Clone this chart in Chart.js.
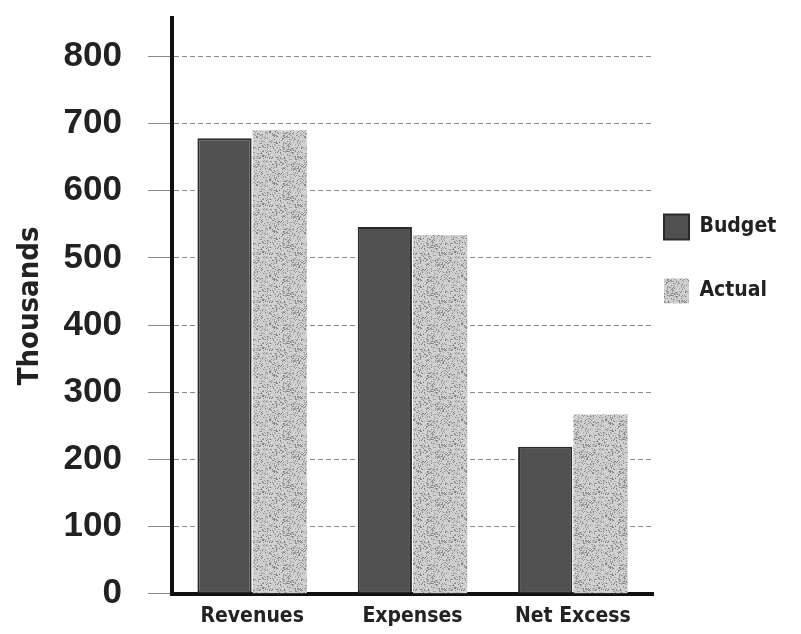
<!DOCTYPE html>
<html>
<head>
<meta charset="utf-8">
<script src="https://cdn.jsdelivr.net/npm/chart.js@4"></script>
<style>
  html, body { margin: 0; padding: 0; background: #ffffff; }
  #wrap { width: 801px; height: 634px; position: relative; }
</style>
</head>
<body>
<div id="wrap"><canvas id="c" width="801" height="634"></canvas></div>
<script>
const categories = ['Revenues', 'Expenses', 'Net Excess'];
const budget = [678, 546, 219];
const actual = [690, 534, 267];
const yTicks = [0, 100, 200, 300, 400, 500, 600, 700, 800];
const yTitle = 'Thousands';

function makeSpeckle() {
  const c = document.createElement('canvas');
  c.width = 48; c.height = 48;
  const g = c.getContext('2d');
  g.fillStyle = '#d2d2d2';
  g.fillRect(0, 0, 48, 48);
  for (let y = 0; y < 48; y++) {
    for (let x = 0; x < 48; x++) {
      const h = Math.sin(x * 12.9898 + y * 78.233) * 43758.5453;
      const f = h - Math.floor(h);
      if (f < 0.4) {
        const v = Math.floor(120 + f * 230);
        g.fillStyle = 'rgb(' + v + ',' + v + ',' + v + ')';
        g.fillRect(x, y, 1, 1);
      }
    }
  }
  return g.createPattern(c, 'repeat');
}
const speckle = makeSpeckle();

const narrow = '"DejaVu Sans Condensed", "Liberation Sans", sans-serif';

// Widen the legend's drawing region after layout so it can sit close to the plot
const legendShift = {
  id: 'legendShift',
  afterLayout(chart) {
    const lg = chart.legend;
    if (!lg) return;
    lg.left = chart.chartArea.right - 28;
    lg.right = chart.width;
    lg.width = lg.right - lg.left;
  }
};

new Chart(document.getElementById('c'), {
  type: 'bar',
  data: {
    labels: categories,
    datasets: [
      { label: 'Budget', data: budget, backgroundColor: '#505050', borderColor: '#2a2a2a', borderWidth: 2, borderSkipped: false },
      { label: 'Actual', data: actual, backgroundColor: speckle, borderColor: '#bdbdbd', borderWidth: 0 }
    ]
  },
  plugins: [legendShift],
  options: {
    responsive: false,
    animation: false,
    devicePixelRatio: 1,
    categoryPercentage: 0.69,
    barPercentage: 0.98,
    layout: { padding: { top: 18, right: 0, bottom: -5, left: 0 } },
    plugins: {
      tooltip: { enabled: false },
      legend: {
        position: 'right',
        align: 'start',
        maxWidth: 148,
        title: { display: true, text: '', padding: { top: 143, bottom: 0 } },
        labels: {
          boxWidth: 25,
          boxHeight: 25,
          padding: 39,
          color: '#222',
          font: { family: narrow, size: 21, weight: 'bold' }
        }
      }
    },
    scales: {
      x: {
        grid: { display: false, drawTicks: false },
        border: { display: true, color: '#111', width: 4 },
        ticks: { color: '#222', padding: 10, maxRotation: 0, minRotation: 0, autoSkip: false, font: { family: narrow, size: 21, weight: 'bold' } }
      },
      y: {
        min: 0,
        max: 857,
        afterBuildTicks: (axis) => { axis.ticks = yTicks.map(v => ({ value: v })); },
        afterFit: (scale) => { scale.paddingTop = 0; scale.paddingBottom = 0; scale.width = 172; },
        grid: { color: '#8a8a8a', lineWidth: 1, tickLength: 24, drawTicks: true },
        border: { display: true, color: '#111', width: 4, dash: [5, 3] },
        ticks: { color: '#222', padding: 26, font: { family: '"Liberation Sans", Arial, sans-serif', size: 35, weight: 'bold' } },
        title: { display: true, text: yTitle, color: '#222', padding: { top: 13, bottom: 0 }, font: { family: narrow, size: 29, weight: 'bold' } }
      }
    }
  }
});
</script>
</body>
</html>
